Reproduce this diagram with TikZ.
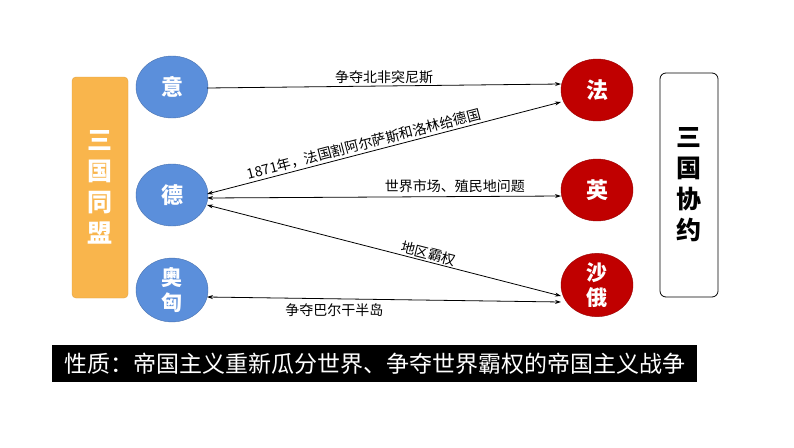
\documentclass[tikz,border=0pt]{standalone}
\usepackage{fontspec}
\setmainfont{Noto Sans CJK SC}
\usetikzlibrary{arrows.meta,shapes.geometric}
\definecolor{blu}{HTML}{5B8FDB}
\definecolor{rd}{HTML}{C00000}
\definecolor{org}{HTML}{F9B54C}
\tikzset{
 bc/.style={ellipse,draw=blu!80!black,fill=blu,minimum width=72pt,minimum height=62pt,inner sep=0pt,text=white,font=\fontsize{22}{24}\selectfont\bfseries,align=center},
 rc/.style={bc,draw=rd!80!black,fill=rd},
 arr/.style={-{Stealth[length=6pt,width=4pt]},line width=0.8pt},
 barr/.style={{Stealth[length=6pt,width=4pt]}-{Stealth[length=6pt,width=4pt]},line width=0.8pt},
 lbl/.style={font=\fontsize{14}{15}\selectfont,inner sep=1pt}
}
\begin{document}
\begin{tikzpicture}[x=1pt,y=-1pt]
\useasboundingbox (0,0) rectangle (794,447);
\fill[white] (0,0) rectangle (794,447);
\node[draw=org!90!black,fill=org,rounded corners=4pt,minimum width=56pt,minimum height=221pt,text=white,font=\fontsize{25}{31}\selectfont\bfseries,align=center] (L) at (100,187.5) {三\\国\\同\\盟};
\node[draw=black,line width=0.8pt,fill=white,rounded corners=6pt,minimum width=58pt,minimum height=224pt,font=\fontsize{25}{31}\selectfont\bfseries,align=center] (R) at (689,185) {三\\国\\协\\约};
\node[bc] (yi) at (172,87) {意};
\node[bc] (de) at (172,195) {德};
\node[bc,font=\fontsize{21}{25}\selectfont\bfseries] (ao) at (172,290) {奥\\匈};
\node[rc] (fa) at (597,90) {法};
\node[rc] (ying) at (597,190) {英};
\node[rc,font=\fontsize{21}{25}\selectfont\bfseries] (e) at (597,285) {沙\\俄};
\coordinate (a1) at (207,88); \coordinate (b1) at (561,84);
\draw[arr] (a1) -- (b1) node[lbl,midway,above=1pt] {争夺北非突尼斯};
\coordinate (a2) at (207,194); \coordinate (b2) at (561,102);
\draw[barr] (a2) -- node[lbl,sloped,above=1pt,pos=0.45] {1871年，法国割阿尔萨斯和洛林给德国} (b2);
\coordinate (a3) at (207,198); \coordinate (b3) at (561,196);
\draw[barr] (a3) -- (b3) node[lbl,pos=0.7,above=2pt] {世界市场、殖民地问题};
\coordinate (a4) at (207,205); \coordinate (b4) at (561,296);
\draw[barr] (a4) -- node[lbl,sloped,above,pos=0.62] {地区霸权} (b4);
\coordinate (a5) at (207,297); \coordinate (b5) at (561,302);
\draw[barr] (a5) -- (b5) node[lbl,pos=0.36,below=3pt] {争夺巴尔干半岛};
\node[fill=black,text=white,minimum width=645pt,minimum height=37pt,inner sep=0pt,font=\fontsize{23}{26}\selectfont] (bn) at (374.5,363.5) {性质：帝国主义重新瓜分世界、争夺世界霸权的帝国主义战争};
\end{tikzpicture}
\end{document}
